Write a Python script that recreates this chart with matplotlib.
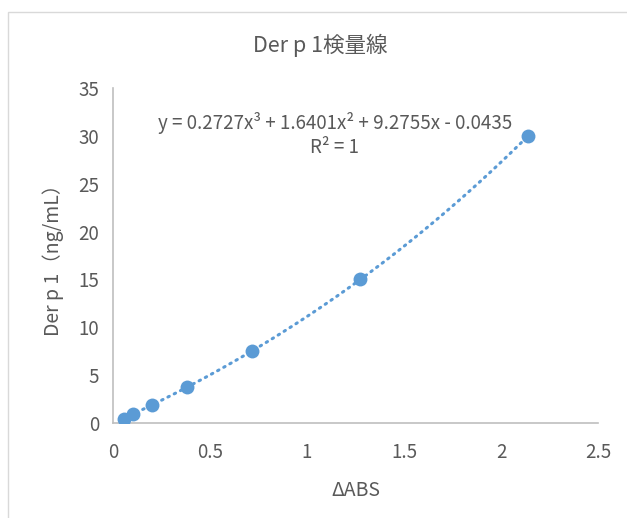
import numpy as np
import matplotlib.pyplot as plt
import matplotlib.patches as patches

plt.rcParams['font.family'] = ['Noto Sans CJK JP', 'DejaVu Sans']

# data
abs_values = [0.055, 0.104, 0.20, 0.382, 0.715, 1.275, 2.14]
conc_values = [0.469, 0.9375, 1.875, 3.75, 7.5, 15, 30]
x_ticks = [0, 0.5, 1, 1.5, 2, 2.5]
x_tick_labels = ['0', '0.5', '1', '1.5', '2', '2.5']
y_ticks = [0, 5, 10, 15, 20, 25, 30, 35]

title = 'Der p 1検量線'
x_label = 'ΔABS'
y_label = 'Der p 1（ng/mL）'
eq_text = 'y = 0.2727x³ + 1.6401x² + 9.2755x - 0.0435'
r2_text = 'R² = 1'

blue = '#5B9BD5'
grey = '#595959'
axis_grey = '#BFBFBF'

fig = plt.figure(figsize=(6.27, 5.18), dpi=100)
ax = fig.add_axes([0.1802, 0.1834, 0.7735, 0.6466])

# chart border
fig.patches.append(patches.Rectangle((8 / 627, -0.01), 1.0, 1 - 12 / 518 + 0.01,
                                     transform=fig.transFigure, fill=False,
                                     edgecolor='#D9D9D9', linewidth=1.0))

# cubic trendline through the points
coef = np.polyfit(abs_values, conc_values, 3)
xs = np.linspace(min(abs_values), max(abs_values), 200)
ax.plot(xs, np.polyval(coef, xs), color=blue, linewidth=2.2,
        linestyle=(0, (0.5, 1.8)), dash_capstyle='round', zorder=2)

ax.plot(abs_values, conc_values, 'o', color=blue, markersize=10,
        markeredgewidth=0, zorder=3)

ax.set_xlim(0, 2.5)
ax.set_ylim(0, 35)
ax.set_xticks(x_ticks)
ax.set_xticklabels(x_tick_labels)
ax.set_yticks(y_ticks)

for s in ['top', 'right']:
    ax.spines[s].set_visible(False)
for s in ['left', 'bottom']:
    ax.spines[s].set_color(axis_grey)
    ax.spines[s].set_linewidth(1.2)
ax.tick_params(length=0, labelsize=13.5, labelcolor=grey)
ax.tick_params(axis='x', pad=14)
ax.tick_params(axis='y', pad=10)

ax.set_xlabel(x_label, fontsize=14, color=grey, labelpad=12)
ax.set_ylabel(y_label, fontsize=14, color=grey, labelpad=10)

fig.text(0.51, 0.913, title, ha='center', va='center', fontsize=15.5, color=grey)

ax.text(1.144, 31.3, eq_text, ha='center', va='center', fontsize=13.5, color=grey)
ax.text(1.144, 28.8, r2_text, ha='center', va='center', fontsize=13.5, color=grey)

fig.savefig('out.png', dpi=100)
